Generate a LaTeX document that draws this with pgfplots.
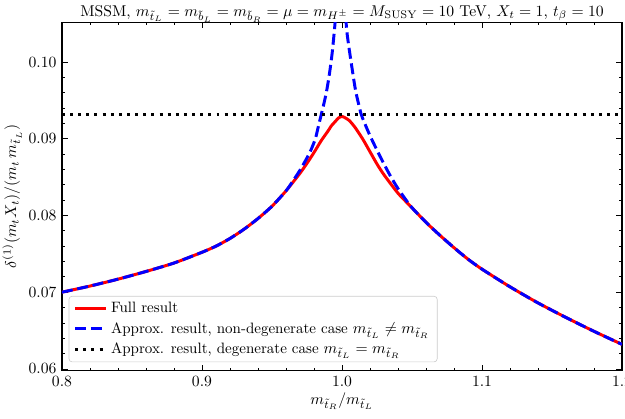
\documentclass[border=0pt]{standalone}
\usepackage{pgfplots}
\pgfplotsset{compat=1.18}
\usepackage{amsmath}

% full result
\pgfplotstableread{
x y
0.80 0.0700
0.82 0.0708
0.84 0.0717
0.86 0.0727
0.88 0.0738
0.90 0.0752
0.91 0.0760
0.92 0.0770
0.93 0.0782
0.94 0.0796
0.95 0.0812
0.96 0.0832
0.97 0.0855
0.975 0.0868
0.98 0.0882
0.985 0.0897
0.99 0.0910
0.9925 0.0917
0.995 0.0922
0.9975 0.0927
1.00 0.0929
1.0025 0.0927
1.005 0.0924
1.0075 0.0919
1.01 0.0913
1.015 0.0899
1.02 0.0883
1.025 0.0867
1.03 0.0853
1.04 0.0829
1.05 0.0810
1.06 0.0791
1.07 0.0774
1.08 0.0758
1.09 0.0743
1.10 0.0730
1.12 0.0707
1.14 0.0686
1.16 0.0667
1.18 0.0649
1.20 0.0632
}\fullres

% approx., non-degenerate, below the pole
\pgfplotstableread{
x y
0.80 0.0700
0.82 0.0708
0.84 0.0717
0.86 0.0727
0.88 0.0738
0.90 0.0752
0.91 0.0760
0.92 0.0770
0.93 0.0782
0.94 0.0796
0.95 0.0812
0.96 0.0832
0.965 0.0845
0.97 0.0859
0.975 0.0875
0.978 0.0886
0.981 0.0900
0.983 0.0915
0.985 0.0930
0.987 0.0945
0.989 0.0962
0.991 0.0984
0.993 0.1012
0.995 0.1050
0.9965 0.1090
0.998 0.1150
}\approxlo

% approx., non-degenerate, above the pole
\pgfplotstableread{
x y
1.0015 0.1120
1.003 0.1050
1.0045 0.1025
1.0065 0.1000
1.0085 0.0976
1.01 0.0960
1.0135 0.0933
1.016 0.0921
1.02 0.0904
1.025 0.0885
1.03 0.0867
1.035 0.0850
1.04 0.0835
1.045 0.0822
1.05 0.0810
1.06 0.0791
1.07 0.0774
1.08 0.0758
1.09 0.0743
1.10 0.0730
1.12 0.0707
1.14 0.0686
1.16 0.0667
1.18 0.0649
1.20 0.0632
}\approxhi

\begin{document}
\begin{tikzpicture}
\begin{axis}[
  scale only axis,
  width=358pt, height=223pt,
  xmin=0.8, xmax=1.2, ymin=0.05974, ymax=0.1052,
  xtick={0.8,0.9,1.0,1.1,1.2},
  ytick={0.06,0.07,0.08,0.09,0.10},
  minor x tick num=4, minor y tick num=4,
  tick align=inside,
  major tick length=4pt, minor tick length=2pt,
  every tick/.style={black, line width=0.5pt},
  axis line style={line width=0.7pt},
  xticklabel style={/pgf/number format/.cd, fixed, fixed zerofill, precision=1},
  yticklabel style={/pgf/number format/.cd, fixed, fixed zerofill, precision=2},
  scaled y ticks=false,
  xlabel={$m_{\tilde t_R}/m_{\tilde t_L}$},
  xlabel style={yshift=3pt},
  ylabel={$\delta^{(1)}(m_t X_t)/(m_t\, m_{\tilde t_L})$},
  ylabel style={yshift=-2.5pt},
  title={MSSM, $m_{\tilde t_L}=m_{\tilde b_L}=m_{\tilde b_R}=\mu=m_{H^\pm}=M_\mathrm{SUSY}=10$ TeV, $X_t=1$, $t_\beta=10$},
  every axis title shift=0pt,
  title style={at={(0.5,1)}, anchor=base, yshift=3.8pt, inner sep=0pt},
  legend style={at={(0.012,0.025)}, anchor=south west, draw=black!20,
    rounded corners=2pt, fill=white, fill opacity=0.8, text opacity=1,
    font=\fontsize{9.6}{11.5}\selectfont, row sep=0.5pt},
  legend image code/.code={\draw[#1] (0pt,0pt) -- (20pt,0pt);},
  legend cell align=left,
  clip=true,
]
\addplot[red, line width=1.9pt, smooth, tension=0.4] table {\fullres};
\addlegendentry{Full result}
\addplot[blue, line width=1.9pt, dash pattern=on 7pt off 3pt, smooth, tension=0.4] table {\approxlo};
\addlegendentry{Approx. result, non-degenerate case $m_{\tilde t_L}\neq m_{\tilde t_R}$}
\addplot[blue, line width=1.9pt, dash pattern=on 7pt off 3pt, smooth, tension=0.4, forget plot] table {\approxhi};
\addplot[black, line width=1.9pt, dash pattern=on 1.9pt off 3.3pt] coordinates {(0.8,0.0931) (1.2,0.0931)};
\addlegendentry{Approx. result, degenerate case $m_{\tilde t_L}=m_{\tilde t_R}$}
\end{axis}
\pgfresetboundingbox
\path ([shift={(-39.6pt,-30.7pt)}]current axis.south west)
  rectangle ([shift={(1.9pt,14.1pt)}]current axis.north east);
\end{tikzpicture}
\end{document}
